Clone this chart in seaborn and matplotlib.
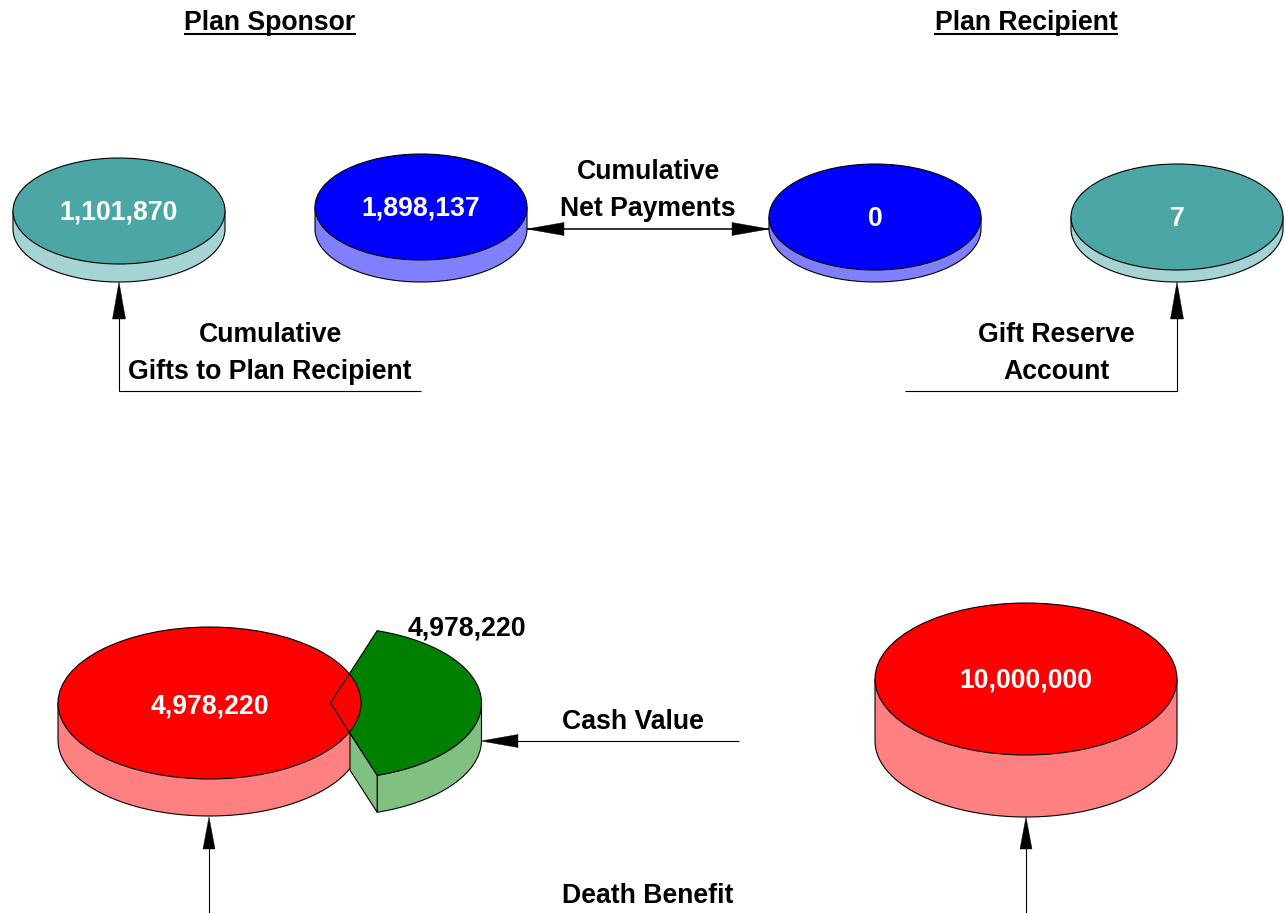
import numpy as np
import matplotlib
matplotlib.use("Agg")
import matplotlib.pyplot as plt
from matplotlib.patches import Ellipse, Polygon
import seaborn as sns

# Chart content
column_titles = ["Plan Sponsor", "Plan Recipient"]
disc_labels = ["1,101,870", "1,898,137", "0", "7", "4,978,220", "10,000,000"]
wedge_label = "4,978,220"
captions = ["Cumulative", "Net Payments", "Cumulative", "Gifts to Plan Recipient",
            "Gift Reserve", "Account", "Cash Value", "Death Benefit"]
disc_colors = ["#4DA6A6", "#0000FF", "#0000FF", "#4DA6A6", "#FF0000", "#FF0000"]
side_colors = ["#A6D3D3", "#8080FF", "#8080FF", "#A6D3D3", "#FF8080", "#FF8080"]

# Layout (pixel space of the 1285x913 canvas)
disc_x = [119, 421, 875, 1177, 209.5, 1026]
disc_y = [211, 207, 217, 217, 703, 679]
disc_rx = [106, 106, 106, 106, 151.5, 151]
disc_ry = [53, 53, 53, 53, 76, 76]
disc_depth = [18, 22, 12, 12, 37, 62]

sns.set_theme(style="white")
plt.rcParams["font.family"] = ["Liberation Sans", "DejaVu Sans"]
LW = 0.8
FS = 19.2

fig = plt.figure(figsize=(12.85, 9.13), dpi=100)
ax = fig.add_axes([0, 0, 1, 1])
ax.set_xlim(0, 1285)
ax.set_ylim(913, 0)
ax.axis("off")


def disc_side(cx, cy, rx, ry, depth, side, z=2.0):
    t = np.linspace(0, np.pi, 120)
    xs = cx + rx * np.cos(t)
    ys = cy + ry * np.sin(t) + depth
    verts = [(cx + rx, cy)] + list(zip(xs, ys)) + [(cx - rx, cy)]
    ax.add_patch(Polygon(verts, closed=True, facecolor=side, edgecolor="black", lw=LW, zorder=z))


def disc_top(cx, cy, rx, ry, top, z=2.5):
    ax.add_patch(Ellipse((cx, cy), 2 * rx, 2 * ry, facecolor=top, edgecolor="black", lw=LW, zorder=z))


def arrow(tip, direction, length=37, half=6.5):
    tip = np.array(tip, float)
    d = np.array(direction, float)
    n = np.array([-d[1], d[0]])
    ax.add_patch(Polygon([tip, tip + d * length + n * half, tip + d * length - n * half],
                         closed=True, facecolor="black", edgecolor="black", lw=0.3, zorder=6))


def line(xs, ys, lw=LW):
    ax.plot(xs, ys, color="black", lw=lw, solid_capstyle="butt", solid_joinstyle="miter", zorder=5)


def label(x, y, s, color="black"):
    ax.text(x, y, s, color=color, fontsize=FS, fontweight="bold", ha="center", va="center", zorder=8)


# Regular discs
for i in [0, 1, 2, 3, 5]:
    disc_side(disc_x[i], disc_y[i], disc_rx[i], disc_ry[i], disc_depth[i], side_colors[i])
    disc_top(disc_x[i], disc_y[i], disc_rx[i], disc_ry[i], disc_colors[i])

# Sponsor disc with detached wedge: red side < green wedge < red top < wedge outline
disc_side(disc_x[4], disc_y[4], disc_rx[4], disc_ry[4], disc_depth[4], side_colors[4], z=1.0)

wx, wy, wrx, wry, wd = 330.5, 703, 151, 76, 37
t = np.radians(np.linspace(-72, 72, 120))
arc = np.column_stack([wx + wrx * np.cos(t), wy + wry * np.sin(t)])
wedge = np.vstack([[wx, wy], arc])

t2 = np.radians(np.linspace(0, 72, 80))
rim = np.column_stack([wx + wrx * np.cos(t2), wy + wry * np.sin(t2)])
rim_low = rim[::-1] + [0, wd]
ax.add_patch(Polygon(np.vstack([rim, rim_low]), closed=True, facecolor="#80C080",
                     edgecolor="black", lw=LW, zorder=1.2))
frac = (350 - wx) / (377 - wx)
inner_a = np.array([350.0, wy + 72 * frac])
inner_b = np.array(rim[-1])
ax.add_patch(Polygon([inner_a, inner_b, inner_b + [0, wd], inner_a + [0, wd]], closed=True,
                     facecolor="#80C080", edgecolor="black", lw=LW, zorder=1.3))
ax.add_patch(Polygon(wedge, closed=True, facecolor="#008000", edgecolor="none", zorder=1.5))
disc_top(disc_x[4], disc_y[4], disc_rx[4], disc_ry[4], disc_colors[4], z=1.7)
ax.add_patch(Polygon(wedge, closed=True, facecolor="none", edgecolor="black",
                     lw=LW, joinstyle="miter", zorder=1.9))

# Connectors
line([119, 119, 421], [300, 391, 391])
arrow((119, 282), (0, 1))
line([905, 1177, 1177], [391, 391, 300])
arrow((1177, 282), (0, 1))
line([527, 769], [229, 229], lw=1.1)
arrow((527, 229), (1, 0))
arrow((769, 229), (-1, 0))
line([500, 739], [741, 741])
arrow((481, 741), (1, 0))
line([209, 209], [830, 913])
arrow((209, 817), (0, 1), length=32, half=6)
line([1026, 1026], [830, 913])
arrow((1026, 817), (0, 1), length=32, half=6)

# Titles with underline
label(270, 23, column_titles[0])
line([184, 356], [34, 34], lw=1.5)
label(1026, 23, column_titles[1])
line([934, 1118], [34, 34], lw=1.5)

# Disc labels
lab_y = [213, 209, 219, 219, 706, 680]
lab_x = [119, 421, 875, 1177, 209.5, 1026]
for x, y, s in zip(lab_x, lab_y, disc_labels):
    label(x, y, s, color="white")
label(467, 629, wedge_label)

# Captions
cap_x = [648, 648, 270, 270, 1056, 1056, 633, 648]
cap_y = [172, 209, 335, 372, 335, 372, 722, 896]
for x, y, s in zip(cap_x, cap_y, captions):
    label(x, y, s)

fig.savefig("out.png", dpi=100, facecolor="white")
